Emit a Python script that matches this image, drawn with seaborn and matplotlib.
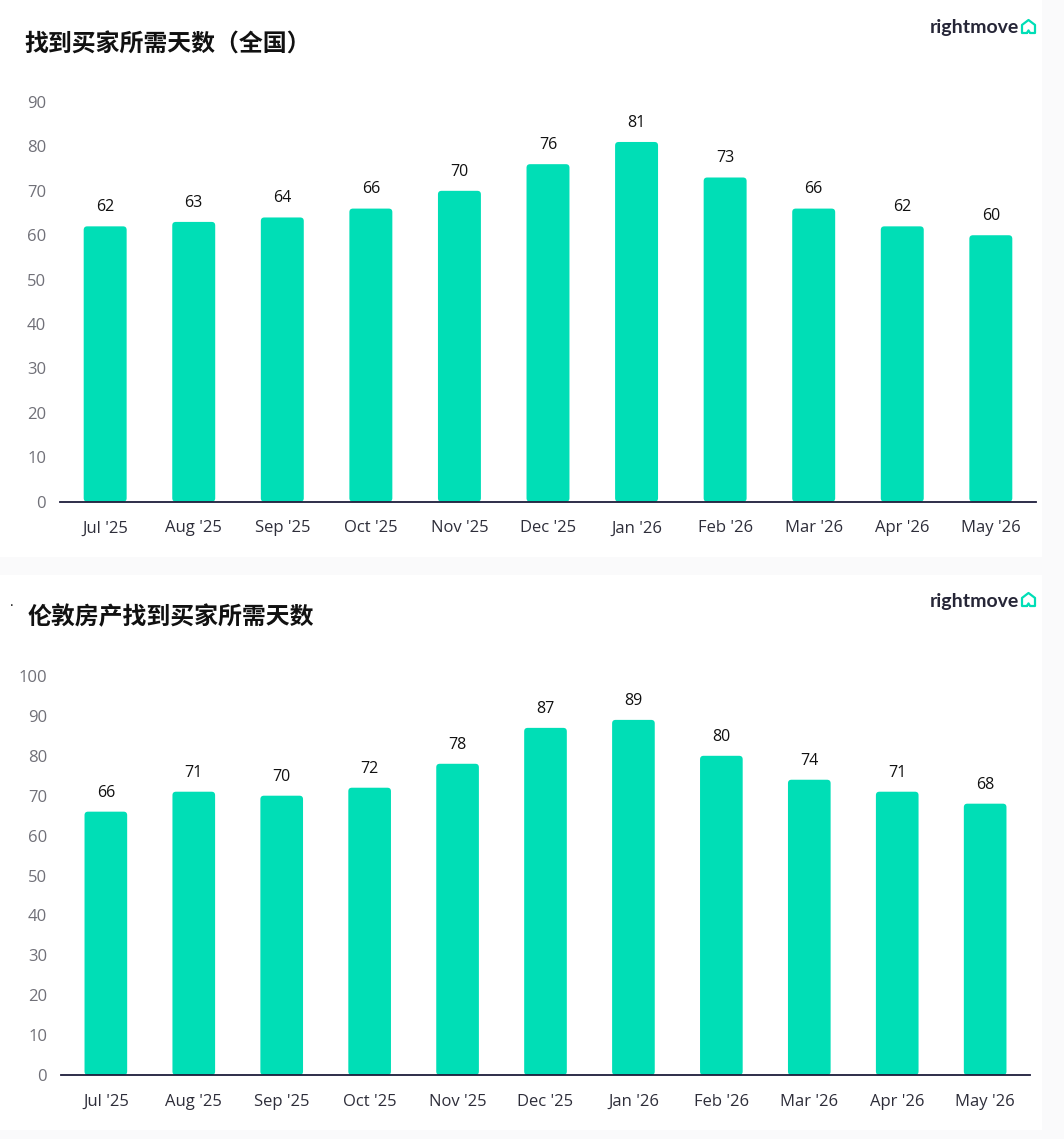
import matplotlib
matplotlib.use("Agg")
import matplotlib.pyplot as plt
import seaborn as sns
import pandas as pd
from matplotlib.patches import Rectangle, FancyBboxPatch
from matplotlib.lines import Line2D

months = ["Jul '25", "Aug '25", "Sep '25", "Oct '25", "Nov '25", "Dec '25",
          "Jan '26", "Feb '26", "Mar '26", "Apr '26", "May '26"]
days_uk = [62, 63, 64, 66, 70, 76, 81, 73, 66, 62, 60]
days_london = [66, 71, 70, 72, 78, 87, 89, 80, 74, 71, 68]

title_uk = "找到买家所需天数（全国）"
title_london = "伦敦房产找到买家所需天数"

teal = "#00deb6"
navy = "#1c1c3a"

sns.set_theme(style="white")
plt.rcParams["font.family"] = ["Open Sans", "Noto Sans CJK SC", "DejaVu Sans"]

W, H = 1064, 1139
fig = plt.figure(figsize=(W / 100, H / 100), dpi=100)
fig.patch.set_facecolor("#fafafb")

# white card behind each chart
fig.add_artist(Rectangle((0, 1 - 557 / H), 1042 / W, 557 / H,
                         transform=fig.transFigure, facecolor="white", edgecolor="none", zorder=0))
fig.add_artist(Rectangle((0, 1 - 1130 / H), 1042 / W, (1130 - 575) / H,
                         transform=fig.transFigure, facecolor="white", edgecolor="none", zorder=0))


def draw_panel(rect, values, ymax, title, title_y, title_x, logo_y):
    ax = fig.add_axes(rect)
    ax.set_facecolor("none")
    df = pd.DataFrame({"month": months, "days": values})
    sns.barplot(data=df, x="month", y="days", color=teal, saturation=1,
                width=0.485, ax=ax)
    ax.set_xlim(-0.51, len(months) - 0.49)
    ax.set_ylim(0, ymax)
    ax.set_yticks(range(0, ymax + 1, 10))
    ax.set_xlabel("")
    ax.set_ylabel("")
    for side in ["top", "right", "left"]:
        ax.spines[side].set_visible(False)
    ax.spines["bottom"].set_color(navy)
    ax.spines["bottom"].set_linewidth(1.3)
    ax.spines["bottom"].set_zorder(5)
    ax.tick_params(axis="y", length=0, pad=10, labelsize=12, labelcolor="#707078")
    ax.tick_params(axis="x", length=0, pad=13.5, labelsize=12, labelcolor="#2e2e3a")
    ax.bar_label(ax.containers[0], padding=8, fontsize=11.5, color="#111111")

    # slightly rounded bar tops
    px_w = rect[2] * W
    px_h = rect[3] * H
    aspect = (ymax / px_h) / ((len(months) + 0.02) / px_w)
    for bar in list(ax.patches):
        x0, y0, bw, bh = bar.get_x(), bar.get_y(), bar.get_width(), bar.get_height()
        bar.set_visible(False)
        ax.add_patch(FancyBboxPatch((x0, y0), bw, bh,
                                    boxstyle="round,pad=0,rounding_size=0.04",
                                    mutation_aspect=aspect, facecolor=teal,
                                    edgecolor="none", zorder=2))

    fig.text(title_x / W, 1 - title_y / H, title, fontsize=17.2, fontweight="bold",
             family=["Noto Sans CJK SC", "DejaVu Sans"], color="#111111",
             va="center", ha="left")

    # rightmove logo
    fig.text(1019 / W, 1 - logo_y / H, "rightmove", fontsize=14, fontweight="bold",
             family=["Lato", "DejaVu Sans"], color="#262637", ha="right", va="center")
    hx, hy, hw, hh = 1022, logo_y - 8, 13, 13
    px = [0.38, 0, 0, 0.5, 1, 1, 0.62, 0.5, 0.38]
    py = [0, 0, 0.62, 1, 0.62, 0, 0, 0.2, 0]
    fig.add_artist(Line2D([(hx + a * hw) / W for a in px],
                          [1 - (hy + hh - b * hh) / H for b in py],
                          transform=fig.transFigure, color=teal, linewidth=1.6,
                          solid_joinstyle="round"))
    return ax


draw_panel([60 / W, 1 - 501.7 / H, 976 / W, (501.7 - 102) / H],
           days_uk, 90, title_uk, 45, 24, 28)
draw_panel([61 / W, 1 - 1075 / H, 969 / W, (1075 - 676) / H],
           days_london, 100, title_london, 617, 28, 601)

fig.text(12 / W, 1 - 607 / H, "·", fontsize=10, color="#111111", ha="center", va="center")

fig.savefig("out.png", dpi=100, facecolor=fig.get_facecolor())
